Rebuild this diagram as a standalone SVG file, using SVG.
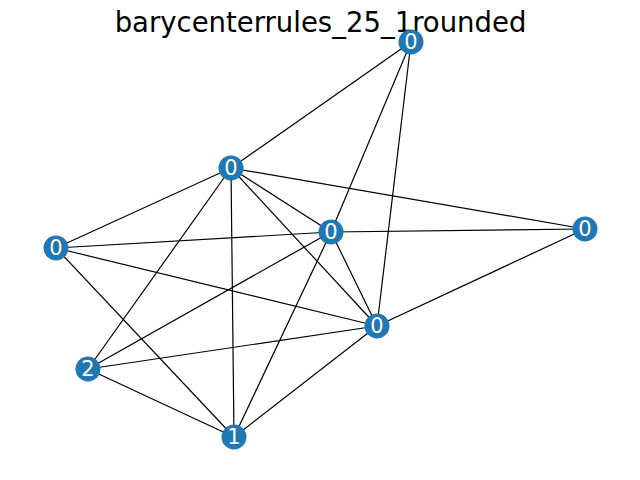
<svg xmlns="http://www.w3.org/2000/svg" width="640" height="480" viewBox="0 0 640 480">
<style>
.e{stroke:#000;stroke-width:1.2;fill:none}
.n circle{fill:#1f77b4}
.n text{fill:#fff;font-family:"DejaVu Sans",sans-serif;font-size:21px;text-anchor:middle;dominant-baseline:central}
.t{font-family:"DejaVu Sans",sans-serif;font-size:27.5px;text-anchor:middle;fill:#000}
</style>
<rect width="640" height="480" fill="#fff"/>
<text class="t" x="320.5" y="32">barycenterrules_25_1rounded</text>
<g id="edges">
<line class="e" x1="411" y1="42" x2="231" y2="168"/>
<line class="e" x1="411" y1="42" x2="331" y2="232"/>
<line class="e" x1="411" y1="42" x2="377" y2="326"/>
<line class="e" x1="231" y1="168" x2="56" y2="248"/>
<line class="e" x1="231" y1="168" x2="331" y2="232"/>
<line class="e" x1="231" y1="168" x2="377" y2="326"/>
<line class="e" x1="231" y1="168" x2="585" y2="229"/>
<line class="e" x1="231" y1="168" x2="88" y2="369"/>
<line class="e" x1="231" y1="168" x2="234" y2="437"/>
<line class="e" x1="331" y1="232" x2="56" y2="248"/>
<line class="e" x1="331" y1="232" x2="585" y2="229"/>
<line class="e" x1="331" y1="232" x2="377" y2="326"/>
<line class="e" x1="331" y1="232" x2="88" y2="369"/>
<line class="e" x1="331" y1="232" x2="234" y2="437"/>
<line class="e" x1="585" y1="229" x2="377" y2="326"/>
<line class="e" x1="56" y1="248" x2="377" y2="326"/>
<line class="e" x1="56" y1="248" x2="234" y2="437"/>
<line class="e" x1="377" y1="326" x2="88" y2="369"/>
<line class="e" x1="377" y1="326" x2="234" y2="437"/>
<line class="e" x1="88" y1="369" x2="234" y2="437"/>
</g>
<g id="nA" class="n"><circle cx="411" cy="42" r="12.5"/><text x="411" y="42">0</text></g>
<g id="nB" class="n"><circle cx="231" cy="168" r="12.5"/><text x="231" y="168">0</text></g>
<g id="nC" class="n"><circle cx="331" cy="232" r="12.5"/><text x="331" y="232">0</text></g>
<g id="nD" class="n"><circle cx="585" cy="229" r="12.5"/><text x="585" y="229">0</text></g>
<g id="nE" class="n"><circle cx="56" cy="248" r="12.5"/><text x="56" y="248">0</text></g>
<g id="nF" class="n"><circle cx="377" cy="326" r="12.5"/><text x="377" y="326">0</text></g>
<g id="nG" class="n"><circle cx="88" cy="369" r="12.5"/><text x="88" y="369">2</text></g>
<g id="nH" class="n"><circle cx="234" cy="437" r="12.5"/><text x="234" y="437">1</text></g>
</svg>
